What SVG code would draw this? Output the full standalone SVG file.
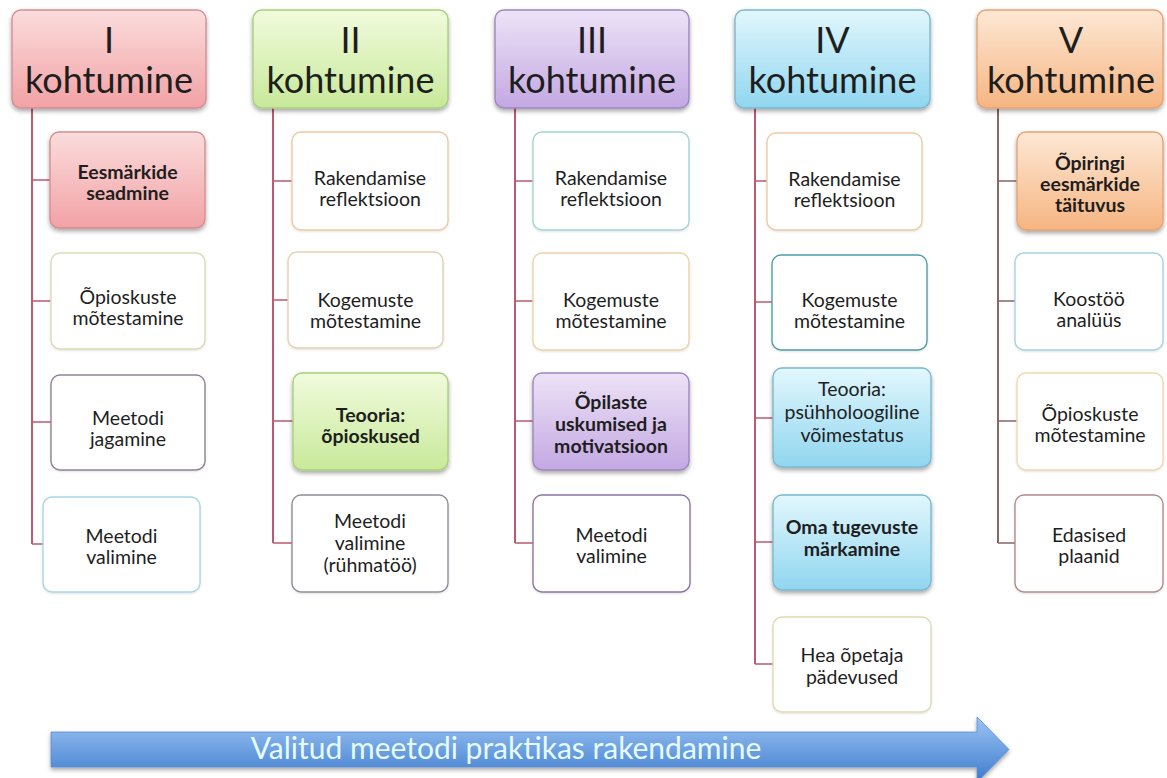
<svg xmlns="http://www.w3.org/2000/svg" width="1167" height="778" viewBox="0 0 1167 778">
<defs>
<linearGradient id="gPink" x1="0" y1="0" x2="0" y2="1"><stop offset="0" stop-color="#fbdcdc"/><stop offset="1" stop-color="#f2a2a5"/></linearGradient>
<linearGradient id="gGreen" x1="0" y1="0" x2="0" y2="1"><stop offset="0" stop-color="#f1fbdd"/><stop offset="1" stop-color="#c8e99a"/></linearGradient>
<linearGradient id="gPurple" x1="0" y1="0" x2="0" y2="1"><stop offset="0" stop-color="#ede3f7"/><stop offset="1" stop-color="#c3a8e2"/></linearGradient>
<linearGradient id="gBlue" x1="0" y1="0" x2="0" y2="1"><stop offset="0" stop-color="#e2f7fd"/><stop offset="1" stop-color="#90d6ef"/></linearGradient>
<linearGradient id="gOrange" x1="0" y1="0" x2="0" y2="1"><stop offset="0" stop-color="#fde8d5"/><stop offset="1" stop-color="#f6b582"/></linearGradient>
<linearGradient id="gArrow" x1="0" y1="0" x2="0" y2="1"><stop offset="0" stop-color="#9cc4f4"/><stop offset="1" stop-color="#3d7ccd"/></linearGradient>
<filter id="sh" x="-10%" y="-10%" width="130%" height="140%"><feDropShadow dx="0" dy="2.5" stdDeviation="2" flood-color="#000" flood-opacity="0.35"/></filter>
<filter id="shl" x="-10%" y="-10%" width="130%" height="140%"><feDropShadow dx="0" dy="1" stdDeviation="1" flood-color="#000" flood-opacity="0.12"/></filter>
</defs>
<style>
.t{font-family:Lato,"Open Sans","Liberation Sans",sans-serif;fill:#1e1e1e;text-anchor:middle}
.h{font-size:36px}
.b{font-size:19.5px}
.bb{font-weight:bold}
.w{fill:#ffffff;stroke-width:1.4;filter:url(#shl)}
.f{stroke-width:1.4;filter:url(#sh)}
.ln{stroke:#bd5a70;stroke-width:2;fill:none}
.ln5{stroke:#8a6666;stroke-width:2;fill:none}
.tk{stroke:#bd5a70;stroke-width:1.5}
.tk5{stroke:#8a6666;stroke-width:1.5}
</style>
<rect width="1167" height="778" fill="#ffffff"/>

<g id="connectors">
<path class="ln" d="M32,108 V544"/>
<path class="tk" d="M32,180 H50 M32,301 H51 M32,422 H51 M32,544 H43"/>
<path class="ln" d="M273,108 V543"/>
<path class="tk" d="M273,181 H292 M273,300 H288 M273,421 H293 M273,543 H292"/>
<path class="ln" d="M515,108 V543"/>
<path class="tk" d="M515,181 H533 M515,301 H533 M515,421 H533 M515,543 H533"/>
<path class="ln" d="M755,108 V664"/>
<path class="tk" d="M755,181 H767 M755,302 H772 M755,418 H773 M755,542 H773 M755,664 H773"/>
<path class="ln5" d="M998,108 V543"/>
<path class="tk5" d="M998,181 H1017 M998,301 H1015 M998,421 H1017 M998,543 H1015"/>
</g>

<g id="h1"><rect class="f" x="12" y="10" width="194" height="98" rx="9" fill="url(#gPink)" stroke="#d58f93"/>
<text class="t h"><tspan x="109" y="52.5">I</tspan><tspan x="109" y="93">kohtumine</tspan></text></g>
<g id="n1a"><rect class="f" x="50" y="132" width="155" height="96" rx="9" fill="url(#gPink)" stroke="#d58f93"/>
<text class="t b bb" x="127.5" y="179">Eesmärkide</text><text class="t b bb" x="127.5" y="200">seadmine</text></g>
<g id="n1b"><rect class="w" x="51" y="253" width="154" height="96" rx="9" stroke="#dcdcb4"/>
<text class="t b" x="128" y="304">Õpioskuste</text><text class="t b" x="128" y="325">mõtestamine</text></g>
<g id="n1c"><rect class="w" x="51" y="375" width="154" height="95" rx="9" stroke="#8e8296"/>
<text class="t b" x="128" y="425">Meetodi</text><text class="t b" x="128" y="446">jagamine</text></g>
<g id="n1d"><rect class="w" x="43" y="497" width="157" height="95" rx="9" stroke="#a9d6e6"/>
<text class="t b" x="121.5" y="543">Meetodi</text><text class="t b" x="121.5" y="564">valimine</text></g>

<g id="h2"><rect class="f" x="253" y="10" width="195" height="98" rx="9" fill="url(#gGreen)" stroke="#a9cf7a"/>
<text class="t h"><tspan x="350.5" y="52.5">II</tspan><tspan x="350.5" y="93">kohtumine</tspan></text></g>
<g id="n2a"><rect class="w" x="292" y="132" width="156" height="98" rx="9" stroke="#f0c9a2"/>
<text class="t b" x="370" y="185">Rakendamise</text><text class="t b" x="370" y="206">reflektsioon</text></g>
<g id="n2b"><rect class="w" x="288" y="252" width="155" height="96" rx="9" stroke="#e2d3b2"/>
<text class="t b" x="365.5" y="307">Kogemuste</text><text class="t b" x="365.5" y="328">mõtestamine</text></g>
<g id="n2c"><rect class="f" x="293" y="373" width="155" height="97" rx="9" fill="url(#gGreen)" stroke="#a9cf7a"/>
<text class="t b bb" x="370.5" y="422">Teooria:</text><text class="t b bb" x="370.5" y="443">õpioskused</text></g>
<g id="n2d"><rect class="w" x="292" y="495" width="156" height="97" rx="9" stroke="#8e8e9a"/>
<text class="t b" x="370" y="528">Meetodi</text><text class="t b" x="370" y="550">valimine</text><text class="t b" x="370" y="572">(rühmatöö)</text></g>

<g id="h3"><rect class="f" x="495" y="10" width="194" height="98" rx="9" fill="url(#gPurple)" stroke="#9d86c0"/>
<text class="t h"><tspan x="592" y="52.5">III</tspan><tspan x="592" y="93">kohtumine</tspan></text></g>
<g id="n3a"><rect class="w" x="533" y="132" width="156" height="98" rx="9" stroke="#a3d6d8"/>
<text class="t b" x="611" y="185">Rakendamise</text><text class="t b" x="611" y="206">reflektsioon</text></g>
<g id="n3b"><rect class="w" x="533" y="253" width="156" height="97" rx="9" stroke="#f0d2ab"/>
<text class="t b" x="611" y="307">Kogemuste</text><text class="t b" x="611" y="328">mõtestamine</text></g>
<g id="n3c"><rect class="f" x="533" y="373" width="156" height="97" rx="9" fill="url(#gPurple)" stroke="#9d86c0"/>
<text class="t b bb" x="611" y="409">Õpilaste</text><text class="t b bb" x="611" y="431">uskumised ja</text><text class="t b bb" x="611" y="453">motivatsioon</text></g>
<g id="n3d"><rect class="w" x="533" y="495" width="157" height="97" rx="9" stroke="#8c76a4" stroke-width="2.2"/>
<text class="t b" x="611.5" y="542">Meetodi</text><text class="t b" x="611.5" y="563">valimine</text></g>

<g id="h4"><rect class="f" x="735" y="10" width="195" height="98" rx="9" fill="url(#gBlue)" stroke="#7ab8cf"/>
<text class="t h"><tspan x="832.5" y="52.5">IV</tspan><tspan x="832.5" y="93">kohtumine</tspan></text></g>
<g id="n4a"><rect class="w" x="767" y="133" width="155" height="97" rx="9" stroke="#efcaa4"/>
<text class="t b" x="844.5" y="186">Rakendamise</text><text class="t b" x="844.5" y="207">reflektsioon</text></g>
<g id="n4b"><rect class="w" x="772" y="255" width="155" height="95" rx="9" stroke="#4f9dab" stroke-width="2.5"/>
<text class="t b" x="849.5" y="307">Kogemuste</text><text class="t b" x="849.5" y="328">mõtestamine</text></g>
<g id="n4c"><rect class="f" x="773" y="368" width="158" height="99" rx="9" fill="url(#gBlue)" stroke="#7ab8cf"/>
<text class="t b" x="852" y="396">Teooria:</text><text class="t b" x="852" y="419">psühholoogiline</text><text class="t b" x="852" y="442">võimestatus</text></g>
<g id="n4d"><rect class="f" x="773" y="495" width="158" height="95" rx="9" fill="url(#gBlue)" stroke="#7ab8cf"/>
<text class="t b bb" x="852" y="534">Oma tugevuste</text><text class="t b bb" x="852" y="556">märkamine</text></g>
<g id="n4e"><rect class="w" x="773" y="617" width="158" height="95" rx="9" stroke="#e2dab4"/>
<text class="t b" x="852" y="662">Hea õpetaja</text><text class="t b" x="852" y="684">pädevused</text></g>

<g id="h5"><rect class="f" x="977" y="10" width="186" height="98" rx="9" fill="url(#gOrange)" stroke="#e6a372"/>
<text class="t h"><tspan x="1071" y="52.5">V</tspan><tspan x="1071" y="93">kohtumine</tspan></text></g>
<g id="n5a"><rect class="f" x="1017" y="132" width="146" height="98" rx="9" fill="url(#gOrange)" stroke="#e6a372"/>
<text class="t b bb" x="1090" y="170">Õpiringi</text><text class="t b bb" x="1090" y="191">eesmärkide</text><text class="t b bb" x="1090" y="212">täituvus</text></g>
<g id="n5b"><rect class="w" x="1015" y="253" width="148" height="97" rx="9" stroke="#a5d3e2"/>
<text class="t b" x="1089" y="306">Koostöö</text><text class="t b" x="1089" y="327">analüüs</text></g>
<g id="n5c"><rect class="w" x="1017" y="373" width="146" height="97" rx="9" stroke="#efd8b0"/>
<text class="t b" x="1090" y="421">Õpioskuste</text><text class="t b" x="1090" y="442">mõtestamine</text></g>
<g id="n5d"><rect class="w" x="1015" y="495" width="148" height="97" rx="9" stroke="#b48a8a"/>
<text class="t b" x="1089" y="542">Edasised</text><text class="t b" x="1089" y="563">plaanid</text></g>

<g id="arrow">
<path d="M51,732 H977 V717 L1009,749.5 L977,782 V767 H51 Z" fill="url(#gArrow)" stroke="#5a8ed4" stroke-width="0.8" filter="url(#sh)"/>
<text class="t" x="506" y="759" style="font-size:30px;fill:#e6fbff">Valitud meetodi praktikas rakendamine</text>
</g>
</svg>
